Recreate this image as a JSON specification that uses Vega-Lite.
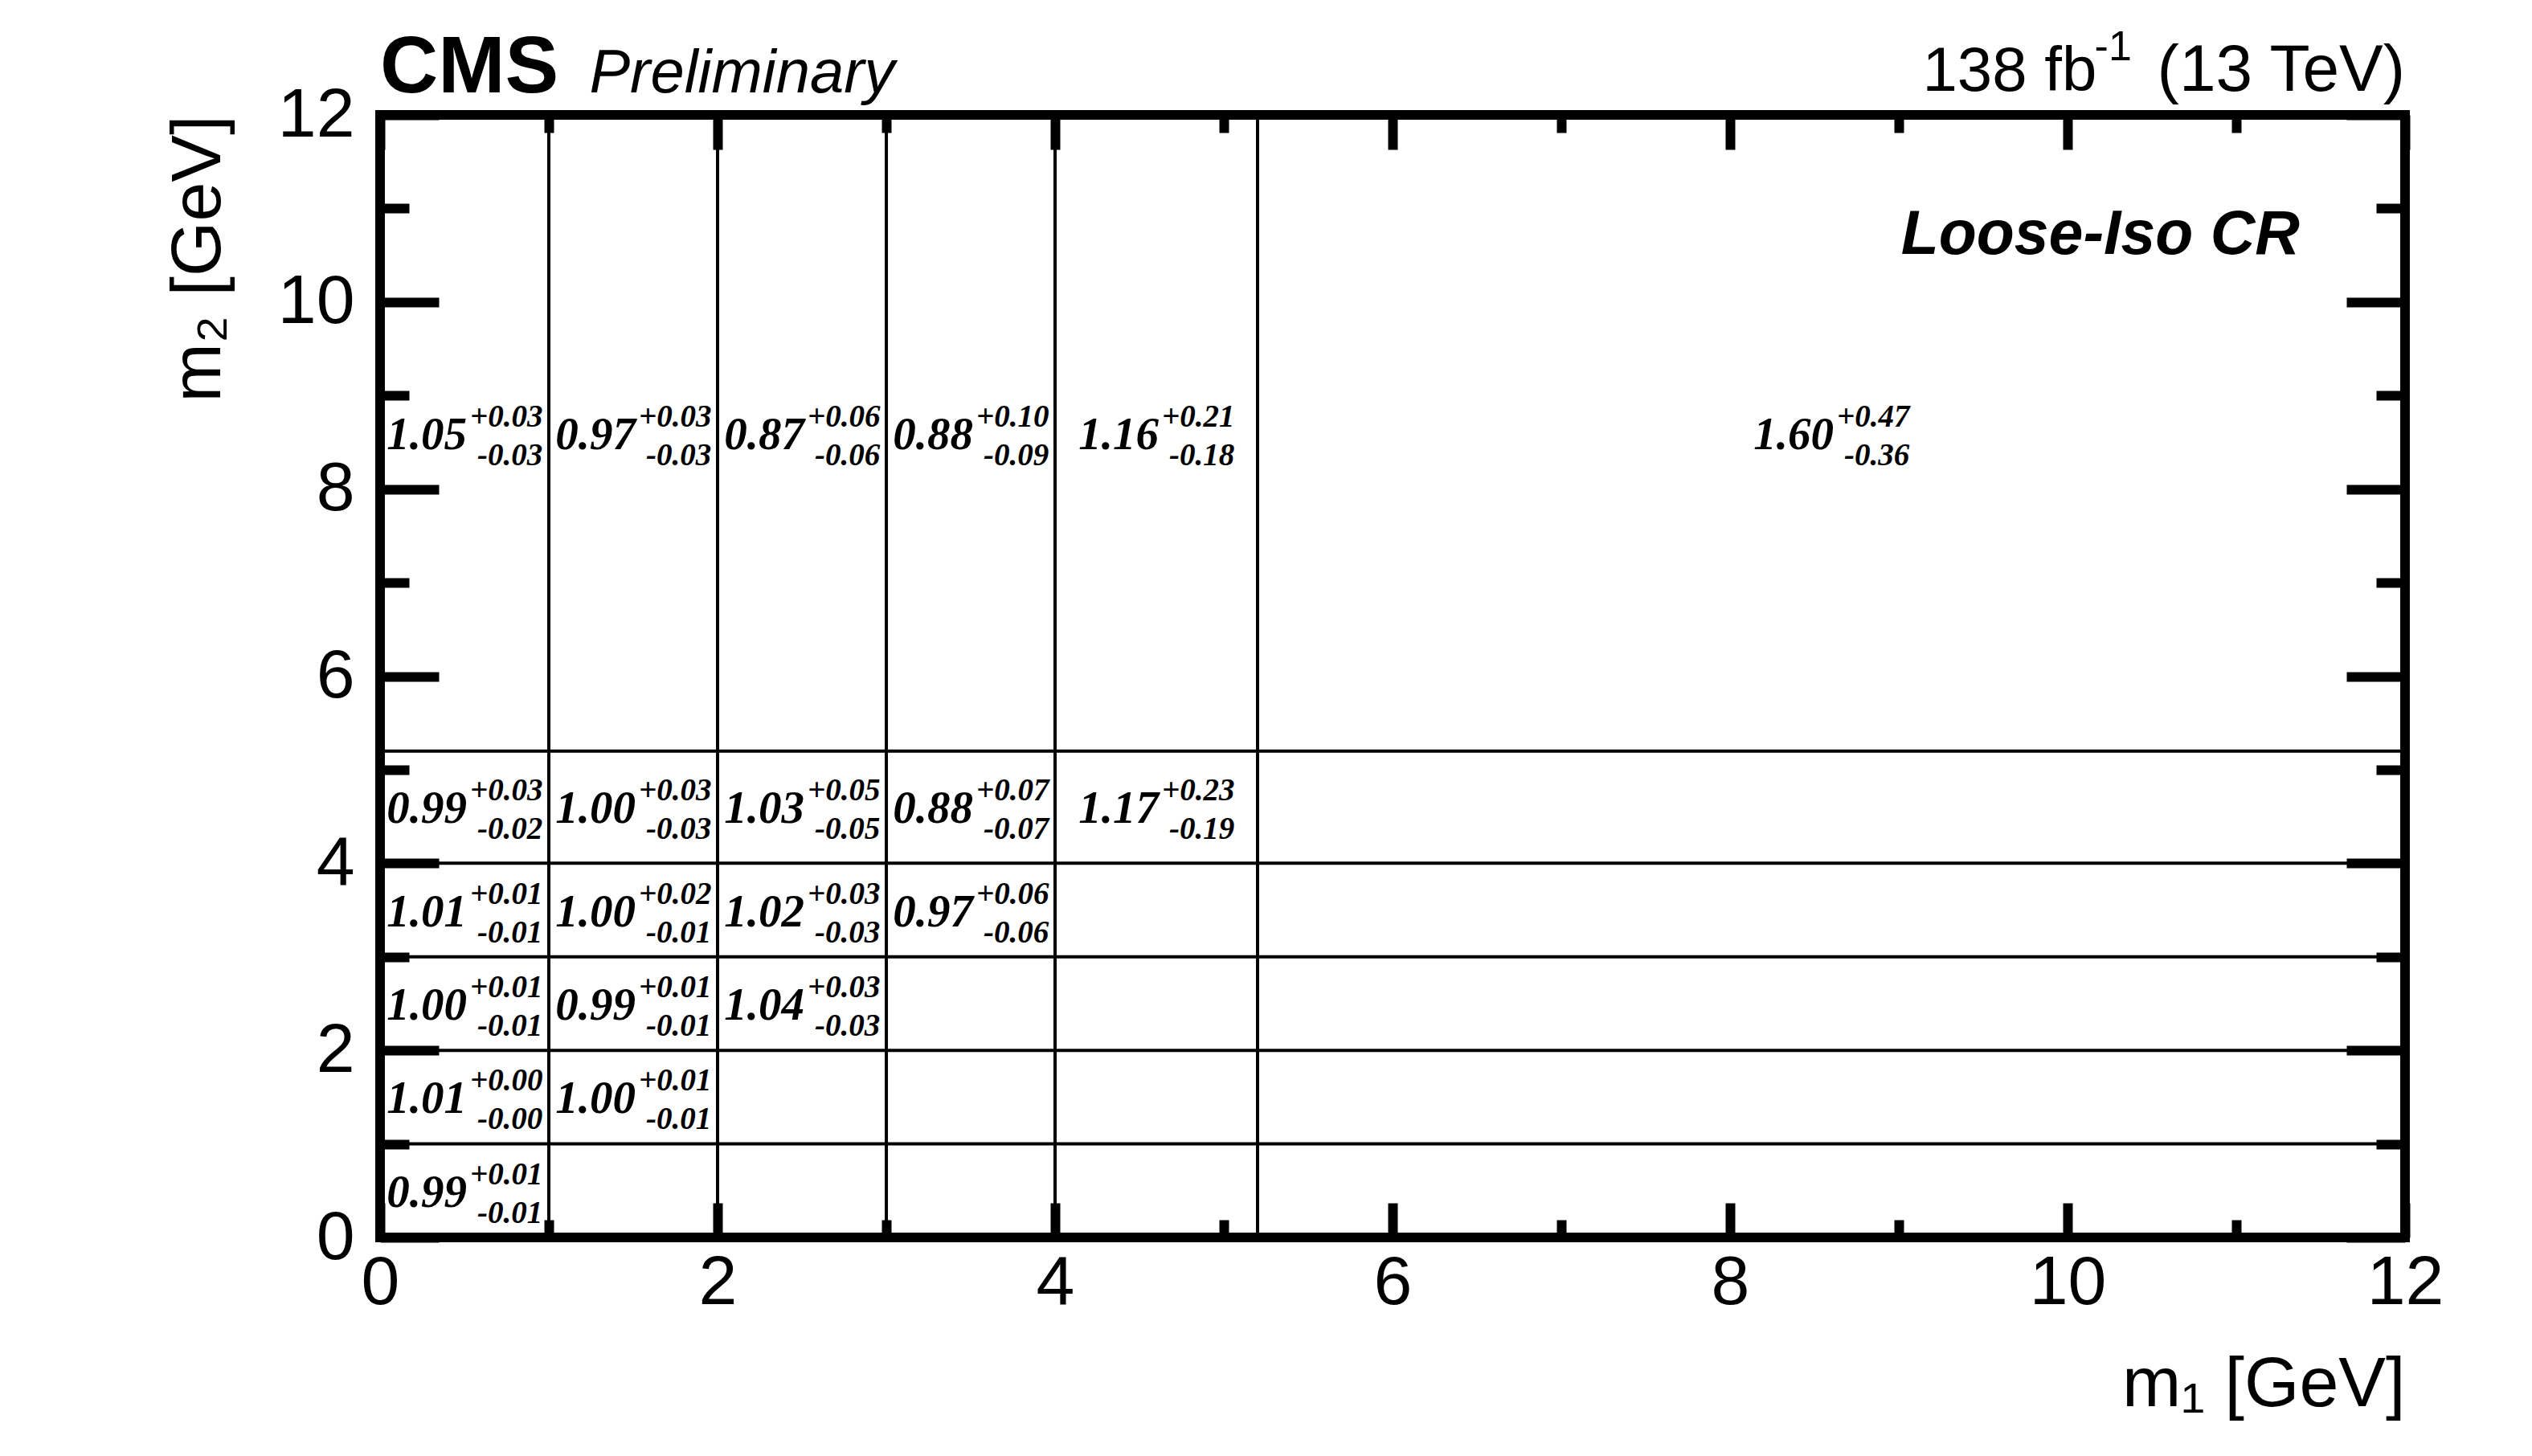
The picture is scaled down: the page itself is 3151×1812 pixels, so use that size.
{
  "$schema": "https://vega.github.io/schema/vega-lite/v6.json",
  "width": 2520,
  "height": 1397,
  "autosize": {"type": "none"},
  "padding": {"left": 473, "top": 143, "right": 158, "bottom": 272},
  "background": "white",
  "config": {
    "view": {"stroke": "black", "strokeWidth": 12},
    "axis": {"grid": false, "domain": false, "labelFlush": false, "labelBound": false, "labelOverlap": false, "labelColor": "black", "titleColor": "black", "tickColor": "black"}
  },
  "datasets": {
    "vlines": [
      {"m1": 1, "m2": 0, "m2end": 12},
      {"m1": 2, "m2": 0, "m2end": 12},
      {"m1": 3, "m2": 0, "m2end": 12},
      {"m1": 4, "m2": 0, "m2end": 12},
      {"m1": 5.2, "m2": 0, "m2end": 12}
    ],
    "hlines": [
      {"m2": 1, "m1": 0, "m1end": 12},
      {"m2": 2, "m1": 0, "m1end": 12},
      {"m2": 3, "m1": 0, "m1end": 12},
      {"m2": 4, "m1": 0, "m1end": 12},
      {"m2": 5.2, "m1": 0, "m1end": 12}
    ],
    "cells": [
      {"m1": 0.5, "m2": 8.6, "val": 1.05, "up": "+0.03", "dn": "-0.03"},
      {"m1": 1.5, "m2": 8.6, "val": 0.97, "up": "+0.03", "dn": "-0.03"},
      {"m1": 2.5, "m2": 8.6, "val": 0.87, "up": "+0.06", "dn": "-0.06"},
      {"m1": 3.5, "m2": 8.6, "val": 0.88, "up": "+0.10", "dn": "-0.09"},
      {"m1": 4.6, "m2": 8.6, "val": 1.16, "up": "+0.21", "dn": "-0.18"},
      {"m1": 8.6, "m2": 8.6, "val": 1.60, "up": "+0.47", "dn": "-0.36"},
      {"m1": 0.5, "m2": 4.6, "val": 0.99, "up": "+0.03", "dn": "-0.02"},
      {"m1": 1.5, "m2": 4.6, "val": 1.00, "up": "+0.03", "dn": "-0.03"},
      {"m1": 2.5, "m2": 4.6, "val": 1.03, "up": "+0.05", "dn": "-0.05"},
      {"m1": 3.5, "m2": 4.6, "val": 0.88, "up": "+0.07", "dn": "-0.07"},
      {"m1": 4.6, "m2": 4.6, "val": 1.17, "up": "+0.23", "dn": "-0.19"},
      {"m1": 0.5, "m2": 3.5, "val": 1.01, "up": "+0.01", "dn": "-0.01"},
      {"m1": 1.5, "m2": 3.5, "val": 1.00, "up": "+0.02", "dn": "-0.01"},
      {"m1": 2.5, "m2": 3.5, "val": 1.02, "up": "+0.03", "dn": "-0.03"},
      {"m1": 3.5, "m2": 3.5, "val": 0.97, "up": "+0.06", "dn": "-0.06"},
      {"m1": 0.5, "m2": 2.5, "val": 1.00, "up": "+0.01", "dn": "-0.01"},
      {"m1": 1.5, "m2": 2.5, "val": 0.99, "up": "+0.01", "dn": "-0.01"},
      {"m1": 2.5, "m2": 2.5, "val": 1.04, "up": "+0.03", "dn": "-0.03"},
      {"m1": 0.5, "m2": 1.5, "val": 1.01, "up": "+0.00", "dn": "-0.00"},
      {"m1": 1.5, "m2": 1.5, "val": 1.00, "up": "+0.01", "dn": "-0.01"},
      {"m1": 0.5, "m2": 0.5, "val": 0.99, "up": "+0.01", "dn": "-0.01"}
    ],
    "notes": [
      {"m1": 0, "m2": 12, "label": "CMS", "style": "cms"},
      {"m1": 1.24, "m2": 12, "label": "Preliminary", "style": "prelim"},
      {"m1": 9.14, "m2": 12, "label": "138 fb", "style": "lumi"},
      {"m1": 10.16, "m2": 12, "label": "-1", "style": "lumisup"},
      {"m1": 12, "m2": 12, "label": "(13 TeV)", "style": "energy"},
      {"m1": 11.376, "m2": 10.51, "label": "Loose-Iso CR", "style": "region"}
    ]
  },
  "resolve": {"axis": {"x": "independent", "y": "independent"}},
  "layer": [
    {
      "data": {"name": "vlines"},
      "mark": {"type": "rule", "stroke": "black", "strokeWidth": 4},
      "encoding": {
        "x": {"field": "m1", "type": "quantitative", "scale": {"domain": [0, 12], "nice": false, "zero": false},
          "axis": {"orient": "bottom", "values": [0, 2, 4, 6, 8, 10, 12], "ticks": false, "labelFont": "Liberation Sans", "labelFontSize": 86, "labelPadding": 14,
            "title": "m₁ [GeV]", "titleFont": "Liberation Sans", "titleFontSize": 88, "titleFontWeight": "normal", "titleAnchor": "end", "titlePadding": 40}},
        "y": {"field": "m2", "type": "quantitative", "scale": {"domain": [0, 12], "nice": false, "zero": false},
          "axis": {"orient": "left", "values": [0, 2, 4, 6, 8, 10, 12], "ticks": false, "labelFont": "Liberation Sans", "labelFontSize": 86, "labelPadding": 32,
            "title": "m₂ [GeV]", "titleFont": "Liberation Sans", "titleFontSize": 88, "titleFontWeight": "normal", "titleAnchor": "end", "titlePadding": 54}},
        "y2": {"field": "m2end"}
      }
    },
    {
      "data": {"name": "hlines"},
      "mark": {"type": "rule", "stroke": "black", "strokeWidth": 4},
      "encoding": {
        "x": {"field": "m1", "type": "quantitative", "scale": {"domain": [0, 12], "nice": false, "zero": false},
          "axis": {"orient": "bottom", "values": [0, 2, 4, 6, 8, 10, 12], "labels": false, "ticks": true, "tickSize": -43, "tickWidth": 12, "title": null}},
        "x2": {"field": "m1end"},
        "y": {"field": "m2", "type": "quantitative", "scale": {"domain": [0, 12], "nice": false, "zero": false},
          "axis": {"orient": "left", "values": [0, 2, 4, 6, 8, 10, 12], "labels": false, "ticks": true, "tickSize": -73, "tickWidth": 12, "title": null}}
      }
    },
    {
      "data": {"name": "cells"},
      "mark": {"type": "text", "font": "Liberation Serif", "fontStyle": "italic", "fontWeight": "bold", "fontSize": 57, "align": "right", "baseline": "alphabetic", "dx": 3, "dy": 20, "color": "black"},
      "encoding": {
        "x": {"field": "m1", "type": "quantitative", "scale": {"domain": [0, 12], "nice": false, "zero": false},
          "axis": {"orient": "bottom", "values": [1, 3, 5, 7, 9, 11], "labels": false, "ticks": true, "tickSize": -22, "tickWidth": 12, "title": null}},
        "y": {"field": "m2", "type": "quantitative", "scale": {"domain": [0, 12], "nice": false, "zero": false},
          "axis": {"orient": "left", "values": [1, 3, 5, 7, 9, 11], "labels": false, "ticks": true, "tickSize": -36, "tickWidth": 12, "title": null}},
        "text": {"field": "val", "type": "quantitative", "format": ".2f"}
      }
    },
    {
      "data": {"name": "cells"},
      "mark": {"type": "text", "font": "Liberation Serif", "fontStyle": "italic", "fontWeight": "bold", "fontSize": 39, "align": "left", "baseline": "alphabetic", "dx": 7, "dy": -8, "color": "black"},
      "encoding": {
        "x": {"field": "m1", "type": "quantitative", "scale": {"domain": [0, 12], "nice": false, "zero": false},
          "axis": {"orient": "top", "values": [0, 2, 4, 6, 8, 10, 12], "labels": false, "ticks": true, "tickSize": -43, "tickWidth": 12, "title": null}},
        "y": {"field": "m2", "type": "quantitative", "scale": {"domain": [0, 12], "nice": false, "zero": false},
          "axis": {"orient": "right", "values": [0, 2, 4, 6, 8, 10, 12], "labels": false, "ticks": true, "tickSize": -73, "tickWidth": 12, "title": null}},
        "text": {"field": "up", "type": "nominal"}
      }
    },
    {
      "data": {"name": "cells"},
      "mark": {"type": "text", "font": "Liberation Serif", "fontStyle": "italic", "fontWeight": "bold", "fontSize": 39, "align": "left", "baseline": "alphabetic", "dx": 16, "dy": 40, "color": "black"},
      "encoding": {
        "x": {"field": "m1", "type": "quantitative", "scale": {"domain": [0, 12], "nice": false, "zero": false},
          "axis": {"orient": "top", "values": [1, 3, 5, 7, 9, 11], "labels": false, "ticks": true, "tickSize": -22, "tickWidth": 12, "title": null}},
        "y": {"field": "m2", "type": "quantitative", "scale": {"domain": [0, 12], "nice": false, "zero": false},
          "axis": {"orient": "right", "values": [1, 3, 5, 7, 9, 11], "labels": false, "ticks": true, "tickSize": -36, "tickWidth": 12, "title": null}},
        "text": {"field": "dn", "type": "nominal"}
      }
    },
    {
      "data": {"name": "notes"},
      "transform": [{"filter": "datum.style === 'cms'"}],
      "mark": {"type": "text", "font": "Liberation Sans", "fontWeight": "bold", "fontSize": 100, "align": "left", "baseline": "alphabetic", "dy": -28, "color": "black"},
      "encoding": {
        "x": {"field": "m1", "type": "quantitative", "axis": null},
        "y": {"field": "m2", "type": "quantitative", "axis": null},
        "text": {"field": "label", "type": "nominal"}
      }
    },
    {
      "data": {"name": "notes"},
      "transform": [{"filter": "datum.style === 'prelim'"}],
      "mark": {"type": "text", "font": "Liberation Sans", "fontStyle": "italic", "fontSize": 76, "align": "left", "baseline": "alphabetic", "dy": -28, "color": "black"},
      "encoding": {
        "x": {"field": "m1", "type": "quantitative", "axis": null},
        "y": {"field": "m2", "type": "quantitative", "axis": null},
        "text": {"field": "label", "type": "nominal"}
      }
    },
    {
      "data": {"name": "notes"},
      "transform": [{"filter": "datum.style === 'lumi'"}],
      "mark": {"type": "text", "font": "Liberation Sans", "fontSize": 78, "align": "left", "baseline": "alphabetic", "dy": -30, "color": "black"},
      "encoding": {
        "x": {"field": "m1", "type": "quantitative", "axis": null},
        "y": {"field": "m2", "type": "quantitative", "axis": null},
        "text": {"field": "label", "type": "nominal"}
      }
    },
    {
      "data": {"name": "notes"},
      "transform": [{"filter": "datum.style === 'lumisup'"}],
      "mark": {"type": "text", "font": "Liberation Sans", "fontSize": 52, "align": "left", "baseline": "alphabetic", "dy": -68, "color": "black"},
      "encoding": {
        "x": {"field": "m1", "type": "quantitative", "axis": null},
        "y": {"field": "m2", "type": "quantitative", "axis": null},
        "text": {"field": "label", "type": "nominal"}
      }
    },
    {
      "data": {"name": "notes"},
      "transform": [{"filter": "datum.style === 'energy'"}],
      "mark": {"type": "text", "font": "Liberation Sans", "fontSize": 82, "align": "right", "baseline": "alphabetic", "dy": -30, "color": "black"},
      "encoding": {
        "x": {"field": "m1", "type": "quantitative", "axis": null},
        "y": {"field": "m2", "type": "quantitative", "axis": null},
        "text": {"field": "label", "type": "nominal"}
      }
    },
    {
      "data": {"name": "notes"},
      "transform": [{"filter": "datum.style === 'region'"}],
      "mark": {"type": "text", "font": "Liberation Sans", "fontStyle": "italic", "fontWeight": "bold", "fontSize": 77, "align": "right", "baseline": "alphabetic", "color": "black"},
      "encoding": {
        "x": {"field": "m1", "type": "quantitative", "axis": null},
        "y": {"field": "m2", "type": "quantitative", "axis": null},
        "text": {"field": "label", "type": "nominal"}
      }
    }
  ]
}
